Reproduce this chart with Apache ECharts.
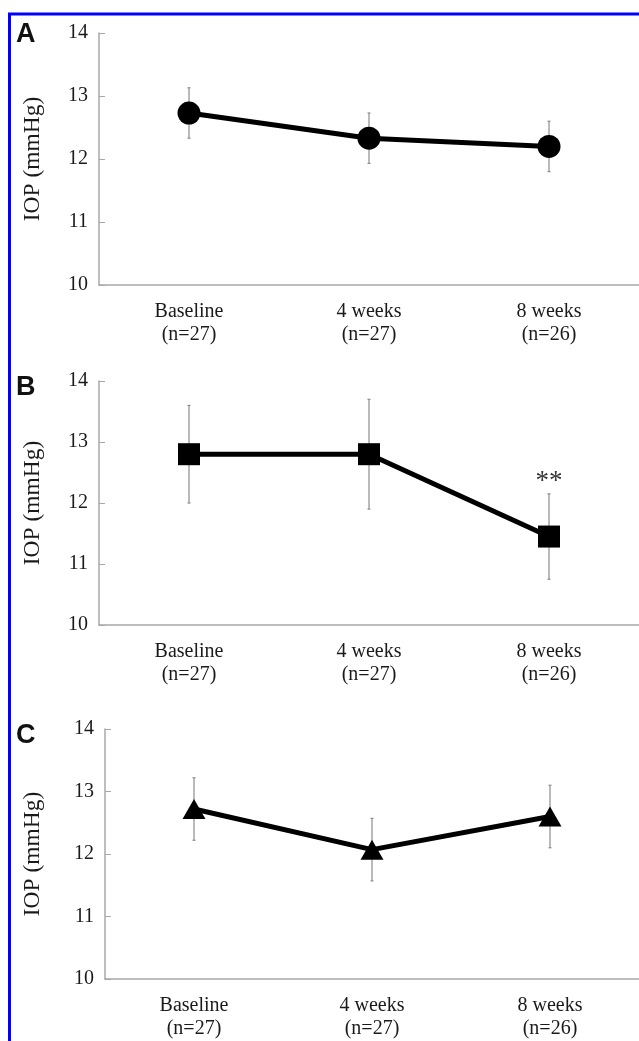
<!DOCTYPE html>
<html>
<head>
<meta charset="utf-8">
<script src="https://cdn.jsdelivr.net/npm/echarts@6/dist/echarts.min.js"></script>
<style>
html,body{margin:0;padding:0;background:#fff;}
#chart{width:639px;height:1041px;}
</style>
</head>
<body>
<div id="chart"></div>
<script>
// ---- data ----
const categories = ['Baseline\n(n=27)', '4 weeks\n(n=27)', '8 weeks\n(n=26)'];
const yTicks = [10, 11, 12, 13, 14];
const panelLetters = ['A', 'B', 'C'];
const meanA = [12.73, 12.33, 12.20];
const errA  = [0.40, 0.40, 0.40];
const meanB = [12.80, 12.80, 11.45];
const errB  = [0.80, 0.90, 0.70];
const meanC = [12.72, 12.07, 12.60];
const errC  = [0.50, 0.50, 0.50];
const sigB  = ['', '', '**'];

// ---- styling / layout ----
const SERIF = "'Liberation Serif','Times New Roman',serif";
const TXT = '#1a1a1a';
const AX = '#a8a8a8';
const grids = [
  {left: 99,  top: 33,  width: 540, height: 252},
  {left: 99,  top: 381, width: 540, height: 244},
  {left: 105, top: 729, width: 540, height: 250}
];
const nameGaps = [54, 54, 60];
const symbols = ['circle', 'rect', 'triangle'];
const symSizes = [23, 22, [23, 20]];
const means = [meanA, meanB, meanC];
const errs = [errA, errB, errC];
const letterY = [21, 374, 722];
const letterX = [16, 16, 16];

function errRender(params, api) {
  const x = api.value(0), lo = api.value(1), hi = api.value(2);
  const p1 = api.coord([x, hi]), p2 = api.coord([x, lo]);
  const w = 1.5;
  const st = {stroke: '#8c8c8c', lineWidth: 1.2};
  return {type: 'group', children: [
    {type: 'line', shape: {x1: p1[0], y1: p1[1], x2: p2[0], y2: p2[1]}, style: st},
    {type: 'line', shape: {x1: p1[0]-w, y1: p1[1], x2: p1[0]+w, y2: p1[1]}, style: st},
    {type: 'line', shape: {x1: p2[0]-w, y1: p2[1], x2: p2[0]+w, y2: p2[1]}, style: st}
  ]};
}

const xAxes = [], yAxes = [], series = [];
grids.forEach((g, i) => {
  xAxes.push({
    type: 'category', gridIndex: i, data: categories, boundaryGap: true,
    axisLine: {lineStyle: {color: AX, width: 1.5}},
    axisTick: {inside: true, length: 6, lineStyle: {color: AX, width: 1}},
    axisLabel: {fontFamily: SERIF, fontSize: 20, lineHeight: 23, color: TXT, margin: 15}
  });
  yAxes.push({
    type: 'value', gridIndex: i, min: yTicks[0], max: yTicks[yTicks.length-1], interval: 1,
    name: 'IOP (mmHg)', nameLocation: 'middle', nameGap: nameGaps[i],
    nameTextStyle: {fontFamily: SERIF, fontSize: 23.5, color: TXT},
    axisLine: {show: true, lineStyle: {color: AX, width: 1.5}},
    axisTick: {show: true, inside: true, length: 6, lineStyle: {color: AX, width: 1}},
    splitLine: {show: false},
    axisLabel: {fontFamily: SERIF, fontSize: 20, color: TXT, margin: 11}
  });
  const m = means[i], e = errs[i];
  series.push({
    type: 'custom', xAxisIndex: i, yAxisIndex: i, z: 1,
    renderItem: errRender,
    data: m.map((v, k) => [k, v - e[k], v + e[k]])
  });
  series.push({
    type: 'line', xAxisIndex: i, yAxisIndex: i, z: 3,
    symbol: symbols[i], symbolSize: symSizes[i], showSymbol: true,
    lineStyle: {color: '#000', width: 5},
    itemStyle: {color: '#000'},
    data: m.map((v, k) => {
      if (i === 1 && sigB[k]) {
        return {value: v, label: {show: true, formatter: sigB[k], position: 'top', distance: 30,
          fontFamily: SERIF, fontSize: 27, color: '#333'}};
      }
      return v;
    }),
    animation: false
  });
});

const graphic = [
  {type: 'line', shape: {x1: 8, y1: 14, x2: 639, y2: 14}, style: {stroke: '#0000ff', lineWidth: 3}},
  {type: 'line', shape: {x1: 9.5, y1: 13, x2: 9.5, y2: 1041}, style: {stroke: '#0000ff', lineWidth: 3}}
];
panelLetters.forEach((L, i) => {
  graphic.push({type: 'text', left: letterX[i], top: letterY[i],
    style: {text: L, font: "bold 27px 'Liberation Sans', Arial, sans-serif", fill: '#111'}});
});

const chart = echarts.init(document.getElementById('chart'));
chart.setOption({
  animation: false,
  backgroundColor: '#fff',
  grid: grids,
  xAxis: xAxes,
  yAxis: yAxes,
  series: series,
  graphic: graphic
});
</script>
</body>
</html>
